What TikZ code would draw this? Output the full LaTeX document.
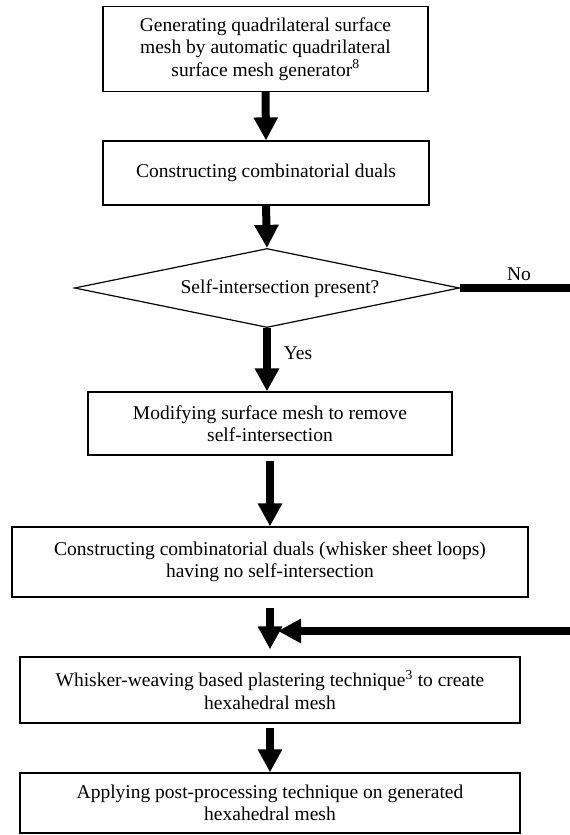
\documentclass[tikz,border=0pt]{standalone}
\usepackage{fontspec}
\setmainfont{Liberation Serif}
\usetikzlibrary{arrows.meta,shapes.geometric}
\begin{document}
\begin{tikzpicture}[x=1pt,y=-1pt,
  box/.style={draw,line width=1.2pt,align=center,font=\fontsize{19.5}{22.5}\selectfont,inner sep=0pt},
  flow/.style={line width=8pt,-{Triangle[length=23pt,width=23pt]}},
  bar/.style={line width=8pt},
  lab/.style={font=\fontsize{19.5}{22.5}\selectfont,inner sep=0pt}]
\path[use as bounding box] (0,0) rectangle (570,835);
\node[box, minimum width=325pt, minimum height=85pt] (b1) at (265.5,49) {Generating quadrilateral surface\\mesh by automatic quadrilateral\\surface mesh generator\textsuperscript{8}};
\node[box, minimum width=326pt, minimum height=64pt] (b2) at (266,173) {Constructing combinatorial duals};
\node[diamond, draw, line width=1.2pt, inner sep=0pt, minimum width=385pt, minimum height=79pt] (d) at (267,288) {};
\node[lab] (dt) at (280,289) {Self-intersection present?};
\node[box, minimum width=364pt, minimum height=63pt] (b3) at (270,423.5) {Modifying surface mesh to remove\\self-intersection};
\node[box, minimum width=516pt, minimum height=70pt] (b4) at (270,562) {Constructing combinatorial duals (whisker sheet loops)\\having no self-intersection};
\node[box, minimum width=500pt, minimum height=66pt] (b5) at (270,690) {Whisker-weaving based plastering technique\textsuperscript{3} to create\\hexahedral mesh};
\node[box, minimum width=500pt, minimum height=60pt] (b6) at (270,803) {Applying post-processing technique on generated\\hexahedral mesh};
\coordinate (noend) at (570,288);
\coordinate (inR) at (570,631);
\coordinate (inL) at (278,631);
\node[lab] (no) at (519,274) {No};
\node[lab] (yes) at (298,353) {Yes};
\draw[flow] (b1.south) -- (b2.north);
\draw[flow] (b2.south) -- (d.north);
\draw[flow] (d.south) -- (d.south |- b3.north);
\draw[bar] (d.east) -- (noend);
\draw[flow, shorten <=5pt] (b3.south) -- (b4.north);
\draw[flow, shorten <=10pt, shorten >=7pt] (b4.south) -- (b5.north);
\draw[flow] (inR) -- (inL);
\draw[flow, shorten <=4pt] (b5.south) -- (b6.north);
\end{tikzpicture}
\end{document}
